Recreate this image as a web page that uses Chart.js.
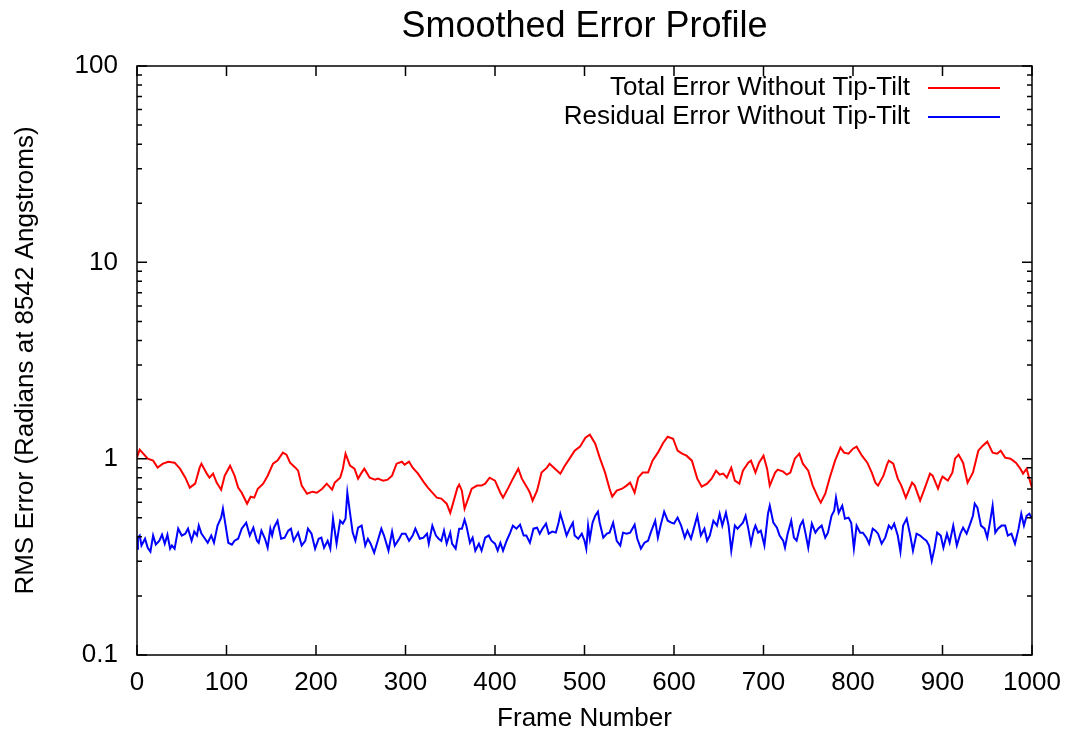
<!DOCTYPE html>
<html>
<head>
<meta charset="utf-8">
<script src="https://cdn.jsdelivr.net/npm/chart.js@4/dist/chart.umd.min.js"></script>
<style>
  body { margin: 0; background: #ffffff; }
  canvas { display: block; }
</style>
</head>
<body>
<canvas id="errChart" width="1069" height="733"></canvas>
<script>
////////////////////////////// dades (llegides de la figura) //////////////////////////////
var chartTitle = "Smoothed Error Profile"
var seriesLabels = ["Total Error Without Tip-Tilt", "Residual Error Without Tip-Tilt"]

var redFrames = [0,3,7,12,18,23,29,35,42,48,54,59,65,70,72,78,81,85,89,94,98,104,109,113,117,123,127,131,135,141,146,152,157,163,167,
  171,177,180,184,190,196,201,207,212,218,221,227,230,233,238,243,247,251,254,260,266,269,275,280,285,290,296,299,304,308,314,320,325,331,335,
  340,346,350,353,358,360,363,366,370,374,380,385,389,394,400,406,409,415,420,426,430,436,439,442,447,452,458,461,467,473,478,484,489,495,501,
  506,512,517,523,528,531,536,542,547,551,556,560,565,571,576,582,588,593,599,604,609,614,620,626,631,637,642,647,651,655,659,664,668,
  673,677,683,686,691,695,700,704,707,713,716,722,726,730,735,740,744,750,755,761,764,769,774,780,786,790,795,800,804,810,816,821,825,828,834,838,
  840,845,850,854,859,866,869,875,880,886,889,895,898,900,906,911,914,918,923,928,934,940,945,950,956,961,965,970,976,982,987,990,994,997,1000]
var redValues = [1.015,1.111,1.060,1.0,0.977,0.900,0.943,0.965,0.954,0.889,0.800,0.712,0.746,0.900,0.943,0.839,0.800,0.839,0.755,0.695,0.819,0.921,0.819,0.712,0.671,0.590,0.640,0.633,0.703,0.746,0.819,0.943,0.977,1.073,1.048,
  0.954,0.900,0.869,0.729,0.663,0.679,0.671,0.703,0.746,0.695,0.755,0.800,0.889,1.060,0.921,0.889,0.791,0.849,0.889,0.800,0.782,0.791,0.773,0.782,0.819,0.943,0.965,0.932,0.965,0.900,0.839,0.764,0.712,0.663,0.633,
  0.626,0.590,0.530,0.590,0.712,0.737,0.687,0.556,0.626,0.703,0.729,0.729,0.746,0.800,0.773,0.671,0.633,0.712,0.791,0.889,0.791,0.712,0.671,0.611,0.687,0.849,0.900,0.943,0.889,0.839,0.921,1.012,1.098,1.151,1.279,
  1.325,1.192,1.012,0.849,0.703,0.640,0.687,0.703,0.729,0.755,0.671,0.800,0.849,0.849,0.977,1.073,1.206,1.294,1.264,1.098,1.060,1.036,0.977,0.791,0.720,0.746,0.791,0.869,0.829,0.839,0.800,0.900,0.773,
  0.746,0.869,0.954,0.977,0.849,0.954,1.036,0.889,0.729,0.849,0.879,0.859,0.829,0.849,1.0,1.060,0.943,0.869,0.729,0.633,0.597,0.663,0.800,0.977,1.138,1.073,1.060,1.124,1.151,1.036,0.954,0.849,0.755,0.729,0.819,0.932,
  0.977,0.943,0.791,0.729,0.633,0.755,0.729,0.611,0.703,0.839,0.819,0.703,0.773,0.810,0.773,0.849,1.0,1.048,0.954,0.755,0.849,1.098,1.165,1.221,1.073,1.060,1.098,1.012,1.0,0.954,0.889,0.839,0.889,0.791,0.712]

var blueFrames = [0,1,3,5,9,12,15,18,21,25,28,31,34,37,39,42,46,50,54,57,61,64,67,69,72,76,79,83,86,90,94,96,99,102,106,109,113,117,122,126,130,134,136,139,143,146,149,151,153,157,161,165,
  169,172,175,180,184,188,191,195,199,203,206,209,213,216,219,223,227,230,233,235,238,241,244,247,251,255,258,261,265,269,273,276,281,285,288,293,296,300,304,308,311,316,320,324,326,330,334,
  337,340,343,346,350,352,356,360,363,366,368,372,375,378,382,385,389,393,396,400,403,406,409,413,417,420,424,428,432,435,439,443,447,450,453,457,460,464,468,471,473,476,480,484,487,489,493,497,500,
  502,504,506,509,512,515,517,521,525,528,532,536,540,543,547,551,556,559,563,567,571,574,579,582,585,589,593,597,600,604,608,612,615,619,623,626,630,634,637,640,644,648,651,654,658,661,664,
  668,671,674,677,680,683,686,689,691,694,697,701,705,707,711,715,718,722,724,727,731,734,737,741,744,747,750,754,758,761,765,769,772,776,779,781,784,788,791,795,798,801,804,808,811,815,818,822,825,828,832,836,
  840,843,846,850,853,856,860,864,867,871,875,879,882,885,888,891,894,898,901,905,908,912,916,920,923,927,931,934,936,939,943,947,950,953,956,959,962,966,970,973,977,981,985,988,991,994,997,1000]
var blueValues = [0.348,0.396,0.406,0.361,0.391,0.352,0.336,0.406,0.365,0.382,0.410,0.369,0.410,0.348,0.361,0.348,0.440,0.406,0.415,0.440,0.382,0.425,0.406,0.456,0.415,0.391,0.373,0.406,0.373,0.456,0.501,0.556,0.456,0.373,0.365,0.382,0.391,0.440,0.472,0.406,0.445,0.382,0.373,0.430,0.391,0.352,0.440,0.406,0.445,0.483,0.391,0.396,
  0.430,0.440,0.382,0.420,0.361,0.382,0.440,0.415,0.348,0.391,0.396,0.352,0.382,0.348,0.495,0.369,0.483,0.467,0.495,0.671,0.530,0.420,0.382,0.445,0.456,0.361,0.391,0.369,0.332,0.382,0.440,0.406,0.340,0.425,0.361,0.391,0.415,0.415,0.382,0.406,0.440,0.391,0.396,0.415,0.369,0.456,0.406,
  0.391,0.382,0.430,0.369,0.420,0.369,0.348,0.440,0.440,0.489,0.456,0.373,0.396,0.340,0.369,0.340,0.396,0.406,0.382,0.369,0.340,0.373,0.340,0.382,0.420,0.456,0.440,0.461,0.406,0.406,0.373,0.440,0.445,0.415,0.440,0.467,0.415,0.425,0.420,0.472,0.524,0.472,0.406,0.445,0.472,0.406,0.391,0.415,0.382,
  0.348,0.456,0.391,0.472,0.512,0.537,0.472,0.396,0.415,0.420,0.472,0.382,0.361,0.420,0.415,0.420,0.461,0.391,0.348,0.373,0.382,0.420,0.483,0.396,0.456,0.537,0.483,0.472,0.467,0.501,0.456,0.396,0.430,0.391,0.456,0.512,0.406,0.440,0.382,0.406,0.483,0.456,0.524,0.456,0.530,0.456,0.340,
  0.456,0.440,0.456,0.472,0.512,0.440,0.369,0.430,0.456,0.420,0.430,0.361,0.524,0.576,0.472,0.445,0.406,0.382,0.352,0.415,0.483,0.396,0.382,0.456,0.483,0.415,0.352,0.467,0.420,0.440,0.456,0.396,0.420,0.512,0.543,0.633,0.530,0.576,0.495,0.501,0.472,0.348,0.456,0.420,0.420,0.396,0.369,0.440,0.430,0.415,0.369,0.396,
  0.456,0.440,0.467,0.406,0.336,0.456,0.495,0.406,0.340,0.415,0.406,0.391,0.382,0.361,0.302,0.348,0.420,0.406,0.352,0.415,0.373,0.456,0.361,0.415,0.445,0.415,0.467,0.512,0.590,0.563,0.456,0.440,0.396,0.472,0.576,0.420,0.440,0.456,0.456,0.406,0.415,0.369,0.440,0.524,0.456,0.512,0.524,0.495]

// eixos
var xMin = 0, xMax = 1000, xStep = 100
var yTickValues = [0.1, 1, 10, 100]
var yMinorFactors = [2, 3, 4, 5, 6, 7, 8, 9]
////////////////////////////////////////////////////////////////////////////////

var fontFam = '"Liberation Sans", Arial, Helvetica, sans-serif'

function toPoints(xs, ys) {
  return xs.map((x, i) => ({ x: x, y: ys[i] }))
}

/////////////////// marc, marques cap a dins, titol i llegenda (estil gnuplot) ///////////////////
var gnuplotFrame = {
  id: 'gnuplotFrame',
  afterDatasetsDraw(chart) {
    let ctx = chart.ctx
    let a = chart.chartArea
    let xs = chart.scales.x
    let ys = chart.scales.y
    ctx.save()
    ctx.strokeStyle = '#000000'
    ctx.lineWidth = 1.5
    ctx.beginPath()
    // x ticks abaix i a dalt
    for (let v = xMin; v <= xMax; v += xStep) {
      let px = xs.getPixelForValue(v)
      ctx.moveTo(px, a.bottom); ctx.lineTo(px, a.bottom - 10)
      ctx.moveTo(px, a.top); ctx.lineTo(px, a.top + 10)
    }
    // y ticks majors i menors a esquerra i dreta
    for (let d = 0; d < yTickValues.length; d++) {
      let base = yTickValues[d]
      let py = ys.getPixelForValue(base)
      ctx.moveTo(a.left, py); ctx.lineTo(a.left + 10, py)
      ctx.moveTo(a.right, py); ctx.lineTo(a.right - 10, py)
      if (d < yTickValues.length - 1) {
        yMinorFactors.forEach(f => {
          let pm = ys.getPixelForValue(base * f)
          ctx.moveTo(a.left, pm); ctx.lineTo(a.left + 5, pm)
          ctx.moveTo(a.right, pm); ctx.lineTo(a.right - 5, pm)
        })
      }
    }
    ctx.stroke()
    ctx.strokeRect(a.left, a.top, a.right - a.left, a.bottom - a.top)

    // titol centrat sobre l'area del grafic
    ctx.fillStyle = '#000000'
    ctx.font = '36px ' + fontFam
    ctx.textAlign = 'center'
    ctx.textBaseline = 'middle'
    ctx.fillText(chartTitle, (a.left + a.right) / 2, 27)

    // llegenda: text a la dreta alineat, mostra de linia al costat
    ctx.font = '26px ' + fontFam
    ctx.textAlign = 'right'
    chart.data.datasets.forEach((ds, i) => {
      let ly = a.top + 22 + i * 29
      ctx.fillStyle = '#000000'
      ctx.fillText(ds.label, a.right - 122, ly)
      ctx.strokeStyle = ds.borderColor
      ctx.lineWidth = 2
      ctx.beginPath()
      ctx.moveTo(a.right - 104, ly)
      ctx.lineTo(a.right - 32, ly)
      ctx.stroke()
    })
    ctx.restore()
  }
}
////////////////////////////////////////////////////////////////////////////////

var ctxChart = document.getElementById('errChart').getContext('2d')
var errChart = new Chart(ctxChart, {
  type: 'line',
  data: {
    datasets: [{
        label: seriesLabels[0],
        borderColor: '#ff0000',
        borderWidth: 2,
        pointRadius: 0,
        fill: false,
        data: toPoints(redFrames, redValues)
      },
      {
        label: seriesLabels[1],
        borderColor: '#0000ff',
        borderWidth: 2,
        pointRadius: 0,
        fill: false,
        data: toPoints(blueFrames, blueValues)
      }
    ]
  },
  options: {
    responsive: false,
    animation: false,
    layout: { padding: { left: 0, right: 37, top: 66, bottom: 0 } },
    plugins: {
      legend: { display: false },
      tooltip: { enabled: false },
      title: { display: false }
    },
    scales: {
      x: {
        type: 'linear',
        min: xMin,
        max: xMax,
        grid: { display: false, drawTicks: false },
        border: { display: false },
        ticks: {
          stepSize: xStep,
          maxRotation: 0,
          color: '#000000',
          padding: 12,
          font: { family: fontFam, size: 26 },
          callback: function(v) { return String(v) }
        },
        title: {
          display: true,
          text: 'Frame Number',
          color: '#000000',
          font: { family: fontFam, size: 26, lineHeight: 1.1 },
          padding: { top: 0, bottom: 0 }
        },
        afterFit(scale) {
          scale.height = 78
          scale.paddingLeft = 0
          scale.paddingRight = 0
        }
      },
      y: {
        type: 'logarithmic',
        min: 0.1,
        max: 100,
        grid: { display: false, drawTicks: false },
        border: { display: false },
        afterBuildTicks(scale) {
          scale.ticks = yTickValues.map(v => ({ value: v }))
        },
        ticks: {
          color: '#000000',
          padding: 19,
          font: { family: fontFam, size: 26 },
          callback: function(v) { return String(v) }
        },
        title: {
          display: true,
          text: 'RMS Error (Radians at 8542 Angstroms)',
          color: '#000000',
          font: { family: fontFam, size: 26 },
          padding: { top: 10, bottom: 0 }
        },
        afterFit(scale) {
          scale.width = 137
          scale.paddingTop = 0
          scale.paddingBottom = 0
        }
      }
    }
  },
  plugins: [gnuplotFrame]
});
</script>
</body>
</html>
